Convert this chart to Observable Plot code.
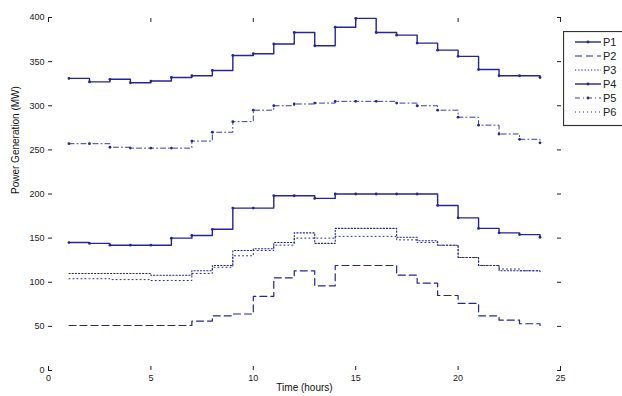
<!DOCTYPE html>
<html><head><meta charset="utf-8">
<script src="https://cdn.jsdelivr.net/npm/d3@7"></script>
<script src="https://cdn.jsdelivr.net/npm/@observablehq/plot@0.6"></script>
<style>
body{margin:0;background:#fff;}
#wrap{position:relative;width:622px;height:396px;overflow:hidden;font-family:"Liberation Sans",Arial,sans-serif;}
#legend{position:absolute;left:563px;top:31px;}
</style></head><body><div id="wrap"></div>
<script>
// Data (hour 1..24, MW)
const hours = [1,2,3,4,5,6,7,8,9,10,11,12,13,14,15,16,17,18,19,20,21,22,23,24];
const P1 = [331,327,330,326,328,332,334,340,357,359,370,383,368,389,399,383,380,371,363,356,341,334,334,332];
const P2 = [51,51,51,51,51,51,56,62,64,84,105,113,96,119,119,119,108,99,85,76,62,57,53,51];
const P3 = [110,110,110,110,108,108,113,119,136,138,145,156,144,161,161,161,151,147,142,128,119,113,113,113];
const P4 = [145,144,142,142,142,150,153,160,184,184,198,198,195,200,200,200,200,200,187,173,161,156,154,151];
const P5 = [257,257,253,252,252,252,260,270,282,295,300,302,303,305,305,305,303,300,295,287,278,268,262,258];
const P6 = [104,104,103,103,102,102,110,117,130,136,142,150,150,152,152,152,148,145,142,128,119,115,113,112];
const seriesNames = ["P1","P2","P3","P4","P5","P6"];
const seriesValues = [P1,P2,P3,P4,P5,P6];
const xTicks = [0,5,10,15,20,25];
const yTicks = [0,50,100,150,200,250,300,350,400];

const blue = "#24249e";
const styles = {
  P1:{dash:null, w:1.4, dots:true},
  P2:{dash:"7,4", w:1.2, dots:false},
  P3:{dash:"1.2,2", w:1.1, dots:false},
  P4:{dash:null, w:1.4, dots:true},
  P5:{dash:"5,3,1,3", w:0.9, dots:true},
  P6:{dash:"1,3", w:1.0, dots:false}
};

const rows = [];
seriesValues.forEach((vals,i)=>vals.forEach((v,j)=>rows.push({name:seriesNames[i], hour:hours[j], value:v})));

const marks = [];
seriesNames.forEach(n=>{
  const d = rows.filter(r=>r.name===n);
  const s = styles[n];
  marks.push(Plot.line(d,{x:"hour",y:"value",curve:"step-after",stroke:blue,strokeWidth:s.w,strokeDasharray:s.dash}));
  if (s.dots) marks.push(Plot.dot(d,{x:"hour",y:"value",r:1.4,fill:blue}));
});

const chart = Plot.plot({
  width:622, height:396,
  marginLeft:48, marginRight:62, marginTop:17, marginBottom:26,
  x:{domain:[0,25], label:null},
  y:{domain:[0,400], label:null},
  style:{fontFamily:"'Liberation Sans',Arial,sans-serif", fontSize:"9px", color:"#222", background:"white"},
  marks:[
    Plot.axisX({anchor:"bottom", ticks:xTicks, tickSize:0, tickPadding:4}),
    Plot.axisX({anchor:"bottom", ticks:xTicks, tickSize:-4, tickFormat:()=>""}),
    Plot.axisX({anchor:"top", ticks:xTicks, tickSize:-4, tickFormat:()=>""}),
    Plot.axisY({anchor:"left", ticks:yTicks, tickSize:0, tickPadding:4}),
    Plot.axisY({anchor:"left", ticks:yTicks, tickSize:-4, tickFormat:()=>""}),
    Plot.axisY({anchor:"right", ticks:yTicks, tickSize:-4, tickFormat:()=>""}),
    ...marks,
    Plot.text(["Time (hours)"],{frameAnchor:"bottom", dy:20, fontSize:10, fill:"#111"}),
    Plot.text(["Power Generation (MW)"],{frameAnchor:"left", dx:-33, rotate:-90, fontSize:10, fill:"#111"})
  ]
});
const wrap = document.getElementById("wrap");
wrap.appendChild(chart);

// Legend
const leg = d3.select(wrap).append("svg").attr("id","legend").attr("width",60).attr("height",97);
leg.append("rect").attr("x",0.5).attr("y",0.5).attr("width",80).attr("height",94)
  .attr("fill","white").attr("stroke","#333").attr("stroke-width",1.2);
seriesNames.forEach((n,i)=>{
  const y = 11 + i*14;
  const s = styles[n];
  leg.append("line").attr("x1",12).attr("x2",38).attr("y1",y).attr("y2",y)
    .attr("stroke",blue).attr("stroke-width",s.w).attr("stroke-dasharray",s.dash);
  if (s.dots) leg.append("circle").attr("cx",25).attr("cy",y).attr("r",1.4).attr("fill",blue);
  leg.append("text").attr("x",40).attr("y",y+4).attr("font-size",11).attr("fill","#222")
    .attr("font-family","'Liberation Sans',Arial,sans-serif").text(n);
});
</script></body></html>
